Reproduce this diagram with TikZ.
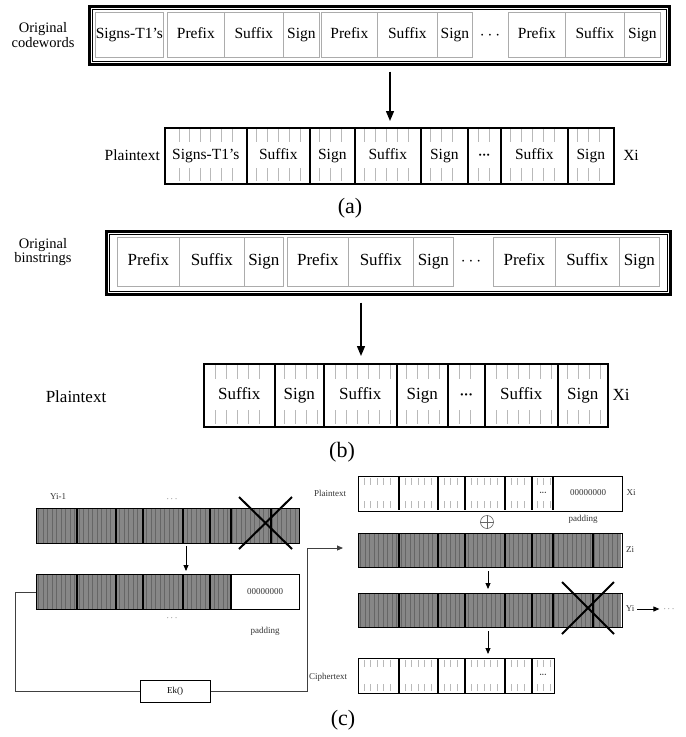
\documentclass[tikz,border=0pt]{standalone}
\usepackage{fontspec}
\setmainfont{Liberation Serif}
\usetikzlibrary{calc,arrows.meta}
\newcommand\fs[1]{\fontsize{#1}{#1}\selectfont}
\newcommand\bdots{\textbf{\char"B7\kern-0.3pt\char"B7\kern-0.3pt\char"B7}}
\newcommand\tickcell[7]{%
  \pgfmathsetmacro\tkA{#1+#6}%
  \pgfmathsetmacro\tkB{#1+#6+#7}%
  \pgfmathsetmacro\tkE{#2-0.5*#6}%
  \foreach \tkx in {\tkA,\tkB,...,\tkE}{\draw[tick] (\tkx,#3)--++(0,#5) (\tkx,#4)--++(0,-#5);}}
\newcommand\stripes[4]{%
  \fill[shadefill] (#1,#3) rectangle (#2,#4);
  \pgfmathsetmacro\stA{#1+2.5}%
  \pgfmathsetmacro\stB{#1+7}%
  \pgfmathsetmacro\stE{#2-1}%
  \foreach \stx in {\stA,\stB,...,\stE}{\draw[stripe] (\stx,#3)--(\stx,#4);}}
\tikzset{
  gcell/.style={draw=gray!65, line width=0.7pt, inner sep=0pt, anchor=north west, font=\fs{15.5}, text height=11pt, text depth=3.5pt},
  gcellb/.style={gcell, font=\fs{17}, text height=12pt, text depth=4pt},
  bcell/.style={draw=black, line width=1.6pt, inner sep=0pt, anchor=north west, font=\fs{15.5}, text height=11pt, text depth=3.5pt},
  bcellb/.style={bcell, font=\fs{17}, text height=12pt, text depth=4pt},
  outerbox/.style={draw=black, line width=2.6pt, inner sep=0pt, anchor=north west},
  lbl/.style={font=\fs{14.5}, inner sep=0pt, align=center},
  lblb/.style={font=\fs{17}, inner sep=0pt, align=center},
  small/.style={font=\fs{9}, inner sep=0pt, text=black!80},
  arr/.style={-{Triangle[length=10pt,width=8pt]}, line width=1.3pt},
  sarr/.style={-{Triangle[length=6pt,width=5pt]}, line width=0.9pt},
  conn/.style={line width=0.9pt, draw=black!75},
  tick/.style={draw=gray!55, line width=0.7pt},
  shadefill/.style={fill=black!47},
  stripe/.style={draw=black!60, line width=1pt},
  crow/.style={draw=black, line width=1.3pt, inner sep=0pt, anchor=north west, minimum height=35pt},
  divline/.style={draw=black, line width=1.3pt},
  cross/.style={draw=black, line width=2pt},
  caption/.style={font=\fs{22}, inner sep=0pt}
}
\begin{document}
\begin{tikzpicture}[x=1pt,y=-1pt]
\useasboundingbox (0,0) rectangle (686,737);

% ---------------- (a) ----------------
\node[lbl] (oc) at (43,35) {Original\\codewords};
\node[outerbox, minimum width=580pt, minimum height=58pt] (A) at (88,5) {};
\draw[line width=0.8pt] ($(A.north west)+(4,4)$) rectangle ($(A.south east)+(-4,-4)$);
\node[gcell, minimum width=68pt, minimum height=45pt] (a1) at (95,12) {Signs-T1\char39 s};
\node[gcell, minimum width=57pt, minimum height=45pt] (a2) at (167,12) {Prefix};
\node[gcell, minimum width=59pt, minimum height=45pt] (a3) at (224,12) {Suffix};
\node[gcell, minimum width=36pt, minimum height=45pt] (a4) at (283,12) {Sign};
\node[gcell, minimum width=56pt, minimum height=45pt] (a5) at (321,12) {Prefix};
\node[gcell, minimum width=60pt, minimum height=45pt] (a6) at (377,12) {Suffix};
\node[gcell, minimum width=35pt, minimum height=45pt] (a7) at (437,12) {Sign};
\node[font=\fs{16}, inner sep=0pt] (adots) at (490,36) {$\cdots$};
\node[gcell, minimum width=57pt, minimum height=45pt] (a8) at (508,12) {Prefix};
\node[gcell, minimum width=59pt, minimum height=45pt] (a9) at (565,12) {Suffix};
\node[gcell, minimum width=36pt, minimum height=45pt] (a10) at (624,12) {Sign};

\coordinate (xa) at (390,0);
\node[lbl, anchor=east, font=\fs{15.5}] (pla) at (160,155) {Plaintext};
\node[bcell, minimum width=82pt, minimum height=56pt] (p1) at (164,127) {Signs-T1\char39 s};
\node[bcell, minimum width=63pt, minimum height=56pt] (p2) at (246,127) {Suffix};
\node[bcell, minimum width=45pt, minimum height=56pt] (p3) at (309,127) {Sign};
\node[bcell, minimum width=66pt, minimum height=56pt] (p4) at (354,127) {Suffix};
\node[bcell, minimum width=47pt, minimum height=56pt] (p5) at (420,127) {Sign};
\node[bcell, minimum width=33pt, minimum height=56pt, font=\fs{13}] (p6) at (467,127) {\bdots};
\node[bcell, minimum width=67pt, minimum height=56pt] (p7) at (500,127) {Suffix};
\node[bcell, minimum width=46pt, minimum height=56pt] (p8) at (567,127) {Sign};
\node[font=\fs{15.5}, inner sep=0pt] (xia) at (631,155) {Xi};
\tickcell{164}{246}{129}{181}{13}{15}{10.6}
\tickcell{246}{309}{129}{181}{13}{10}{11}
\tickcell{309}{354}{129}{181}{13}{10}{11}
\tickcell{354}{420}{129}{181}{13}{10}{11}
\tickcell{420}{467}{129}{181}{13}{10}{11}
\tickcell{467}{500}{129}{181}{13}{11}{11}
\tickcell{500}{567}{129}{181}{13}{10}{11}
\tickcell{567}{613}{129}{181}{13}{10}{11}
\draw[arr] ($(A.south -| xa)+(0,6)$) -- ($(p1.north -| xa)+(0,-6)$);
\node[caption] (capa) at (350,208) {(a)};

% ---------------- (b) ----------------
\node[lbl] (ob) at (43,252) {Original\\binstrings};
\node[outerbox, minimum width=564pt, minimum height=63pt] (B) at (105,230) {};
\draw[line width=0.8pt] ($(B.north west)+(4,4)$) rectangle ($(B.south east)+(-4,-4)$);
\node[gcellb, minimum width=62pt, minimum height=49pt] (b1) at (117,237) {Prefix};
\node[gcellb, minimum width=65pt, minimum height=49pt] (b2) at (179,237) {Suffix};
\node[gcellb, minimum width=39pt, minimum height=49pt] (b3) at (244,237) {Sign};
\node[gcellb, minimum width=61pt, minimum height=49pt] (b4) at (287,237) {Prefix};
\node[gcellb, minimum width=65pt, minimum height=49pt] (b5) at (348,237) {Suffix};
\node[gcellb, minimum width=40pt, minimum height=49pt] (b6) at (413,237) {Sign};
\node[font=\fs{17}, inner sep=0pt] (bdots) at (471,262) {$\cdots$};
\node[gcellb, minimum width=62pt, minimum height=49pt] (b7) at (493,237) {Prefix};
\node[gcellb, minimum width=64pt, minimum height=49pt] (b8) at (555,237) {Suffix};
\node[gcellb, minimum width=40pt, minimum height=49pt] (b9) at (619,237) {Sign};

\coordinate (xb) at (361,0);
\node[lblb] (plb) at (76,397) {Plaintext};
\node[bcellb, minimum width=71pt, minimum height=63pt] (q1) at (203,363) {Suffix};
\node[bcellb, minimum width=49pt, minimum height=63pt] (q2) at (274,363) {Sign};
\node[bcellb, minimum width=73pt, minimum height=63pt] (q3) at (323,363) {Suffix};
\node[bcellb, minimum width=51pt, minimum height=63pt] (q4) at (396,363) {Sign};
\node[bcellb, minimum width=37pt, minimum height=63pt, font=\fs{14}] (q5) at (447,363) {\bdots};
\node[bcellb, minimum width=73pt, minimum height=63pt] (q6) at (484,363) {Suffix};
\node[bcellb, minimum width=50pt, minimum height=63pt] (q7) at (557,363) {Sign};
\node[font=\fs{17}, inner sep=0pt] (xib) at (621,395) {Xi};
\tickcell{203}{274}{365}{424}{14}{12}{11}
\tickcell{274}{323}{365}{424}{14}{10}{11}
\tickcell{323}{396}{365}{424}{14}{12}{11}
\tickcell{396}{447}{365}{424}{14}{10}{11}
\tickcell{447}{484}{365}{424}{14}{12}{11}
\tickcell{484}{557}{365}{424}{14}{12}{11}
\tickcell{557}{607}{365}{424}{14}{10}{11}
\draw[arr] ($(B.south -| xb)+(0,7)$) -- ($(q1.north -| xb)+(0,-7)$);
\node[caption] (capb) at (342,452) {(b)};

% ---------------- (c) left ----------------
\node[small] (ym1l) at (58,497) {Yi-1};
\node[small] (ym1d) at (172,499) {$\cdots$};
\stripes{36}{299}{508}{543}
\node[crow, minimum width=263pt] (Ym) at (36,508) {};
\foreach \o in {41,80,107,147,174,195,235}{\draw[divline] (36+\o,508)--(36+\o,543);}
\draw[cross] (239,497)--(292,549) (292,497)--(239,549);

\coordinate (xc1) at (186,0);
\stripes{36}{231}{574}{609}
\node[crow, minimum width=263pt] (Pad) at (36,574) {};
\foreach \o in {41,80,107,147,174,195}{\draw[divline] (36+\o,574)--(36+\o,609);}
\node[small] (padz) at (265,591.5) {00000000};
\node[small] (padd) at (172,618) {$\cdots$};
\node[small] (padl) at (265,631) {padding};
\draw[sarr] ($(Ym.south -| xc1)+(0,2)$) -- ($(Pad.north -| xc1)+(0,-3)$);

\node[draw, line width=1pt, minimum width=70pt, minimum height=22pt, inner sep=0pt, font=\fs{9}] (Ek) at (175,691) {Ek()};
\coordinate (zin) at (343,548);
\draw[conn] (Pad.west) -- ++(-21,0) |- (Ek.west);
\draw[conn, -{Triangle[length=6pt,width=5pt]}] (Ek.east) -| ($(zin)+(-36,0)$) -- (zin);

% ---------------- (c) right ----------------
\node[small] (ptl) at (330,493) {Plaintext};
\node[crow, minimum width=264pt] (PT) at (358,476) {};
\foreach \o in {41,80,107,147,174,195}{\draw[divline] (358+\o,476)--(358+\o,510);}
\tickcell{358}{399}{478}{508}{7}{6}{6.5}
\tickcell{399}{438}{478}{508}{7}{6}{6.5}
\tickcell{438}{465}{478}{508}{7}{6}{6.5}
\tickcell{465}{505}{478}{508}{7}{6}{6.5}
\tickcell{505}{532}{478}{508}{7}{6}{6.5}
\tickcell{532}{553}{478}{508}{7}{5}{6.5}
\node[small, font=\fs{8}] (ptd) at (543,494) {\bdots};
\node[small] (ptz) at (588,493) {00000000};
\node[small] (xic) at (631,493) {Xi};
\node[circle, draw=black!60, line width=0.6pt, minimum size=13pt, inner sep=0pt] (xor) at (487,522) {};
\draw[draw=black!60, line width=0.6pt] (xor.north)--(xor.south) (xor.west)--(xor.east);
\node[small] (padr) at (583,519) {padding};

\stripes{358}{621}{533}{567}
\node[crow, minimum width=264pt, minimum height=34pt] (Zi) at (358,533) {};
\foreach \o in {41,80,107,147,174,195,235}{\draw[divline] (358+\o,533)--(358+\o,567);}
\node[small] (zil) at (630,550) {Zi};

\coordinate (xc2) at (488,0);
\stripes{358}{621}{593}{627}
\node[crow, minimum width=264pt, minimum height=34pt] (Yi) at (358,593) {};
\foreach \o in {41,80,107,147,174,195,235}{\draw[divline] (358+\o,593)--(358+\o,627);}
\draw[cross] (562,582)--(614,634) (614,582)--(562,634);
\node[small] (yil) at (630,609) {Yi};
\node[small] (yid) at (669,609) {$\cdots$};
\draw[sarr] ([xshift=3pt]yil.east) -- ([xshift=-4pt]yid.west);
\draw[sarr] ($(Zi.south -| xc2)+(0,3)$) -- ($(Yi.north -| xc2)+(0,-4)$);

\node[small] (ctl) at (328,677) {Ciphertext};
\node[crow, minimum width=196pt] (CT) at (358,658) {};
\foreach \o in {41,80,107,147,174}{\draw[divline] (358+\o,658)--(358+\o,693);}
\tickcell{358}{399}{660}{691}{7}{6}{6.5}
\tickcell{399}{438}{660}{691}{7}{6}{6.5}
\tickcell{438}{465}{660}{691}{7}{6}{6.5}
\tickcell{465}{505}{660}{691}{7}{6}{6.5}
\tickcell{505}{532}{660}{691}{7}{6}{6.5}
\tickcell{532}{553}{660}{691}{7}{5}{6.5}
\node[small, font=\fs{8}] (ctd) at (543,676) {\bdots};
\draw[sarr] ($(Yi.south -| xc2)+(0,3)$) -- ($(CT.north -| xc2)+(0,-4)$);

\node[caption] (capc) at (343,720) {(c)};
\end{tikzpicture}
\end{document}
